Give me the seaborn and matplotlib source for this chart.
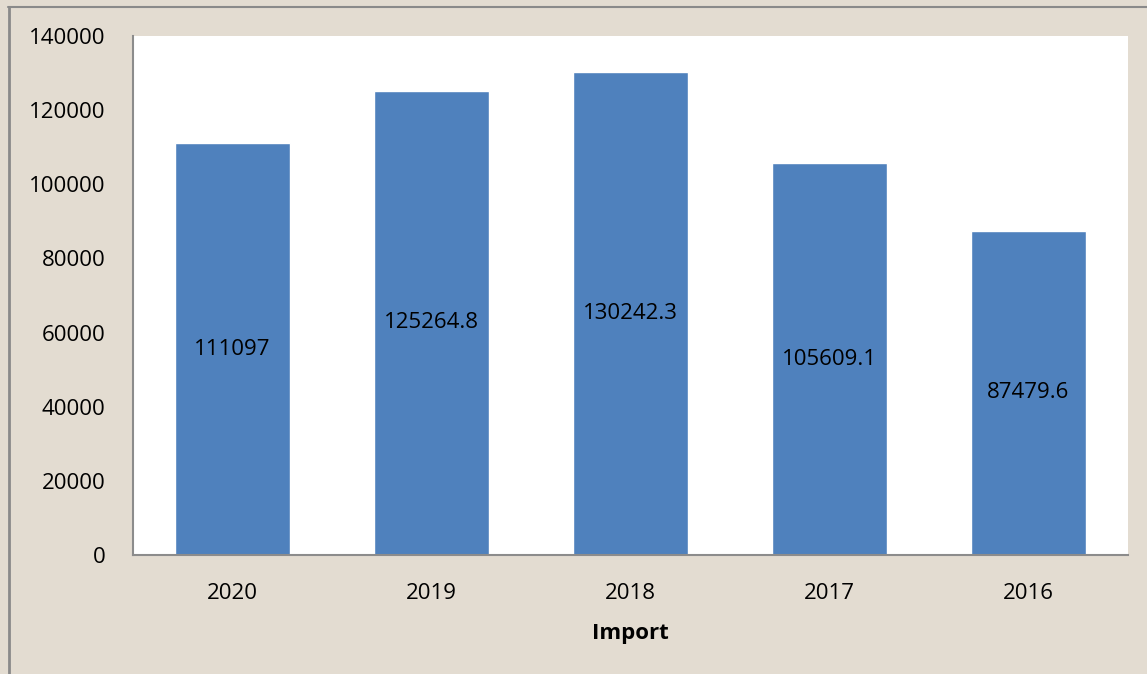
import matplotlib
matplotlib.use("Agg")
import matplotlib.pyplot as plt
import seaborn as sns
import pandas as pd
from matplotlib.lines import Line2D

years = ["2020", "2019", "2018", "2017", "2016"]
imports = [111097, 125264.8, 130242.3, 105609.1, 87479.6]
value_labels = ["111097", "125264.8", "130242.3", "105609.1", "87479.6"]
yticks = [0, 20000, 40000, 60000, 80000, 100000, 120000, 140000]

df = pd.DataFrame({"year": years, "value": imports})

sns.set_theme(style="white")
plt.rcParams["font.family"] = ["Open Sans", "DejaVu Sans"]

W, H = 1147, 674
fig = plt.figure(figsize=(W / 100, H / 100), dpi=100)
fig.patch.set_facecolor("#e3dcd1")

ax = fig.add_axes([133 / W, 1 - 555 / H, (1128 - 133) / W, (555 - 36) / H])
ax.set_facecolor("white")

sns.barplot(data=df, x="year", y="value", order=years, color="#4f81bd",
            saturation=1, width=0.575, ax=ax)

for patch, lab in zip(ax.patches, value_labels):
    x = patch.get_x() + patch.get_width() / 2
    y = patch.get_height() / 2
    ax.text(x, y, lab, ha="center", va="center", fontsize=16, color="black")

ax.set_ylim(0, 140000)
ax.set_yticks(yticks)
ax.set_yticklabels([str(t) for t in yticks], fontsize=16, color="black")
ax.tick_params(axis="x", labelsize=16, colors="black", length=0, pad=20)
ax.tick_params(axis="y", length=0, pad=20)
ax.set_xlabel("Import", fontsize=16, fontweight="bold", labelpad=14,
              color="black")
ax.set_ylabel("")

for side in ["top", "right"]:
    ax.spines[side].set_visible(False)
for side in ["left", "bottom"]:
    ax.spines[side].set_color("#8c8c8c")
    ax.spines[side].set_linewidth(1.5)

# frame lines along the top and left edges of the chart area
frame = "#8a8a8a"
fig.add_artist(Line2D([8.5 / W, 8.5 / W], [0, 1 - 7 / H], color=frame,
                      linewidth=2, transform=fig.transFigure))
fig.add_artist(Line2D([8 / W, 1], [1 - 7 / H, 1 - 7 / H], color=frame,
                      linewidth=1.5, transform=fig.transFigure))

fig.savefig("out.png", dpi=100, facecolor=fig.get_facecolor())
